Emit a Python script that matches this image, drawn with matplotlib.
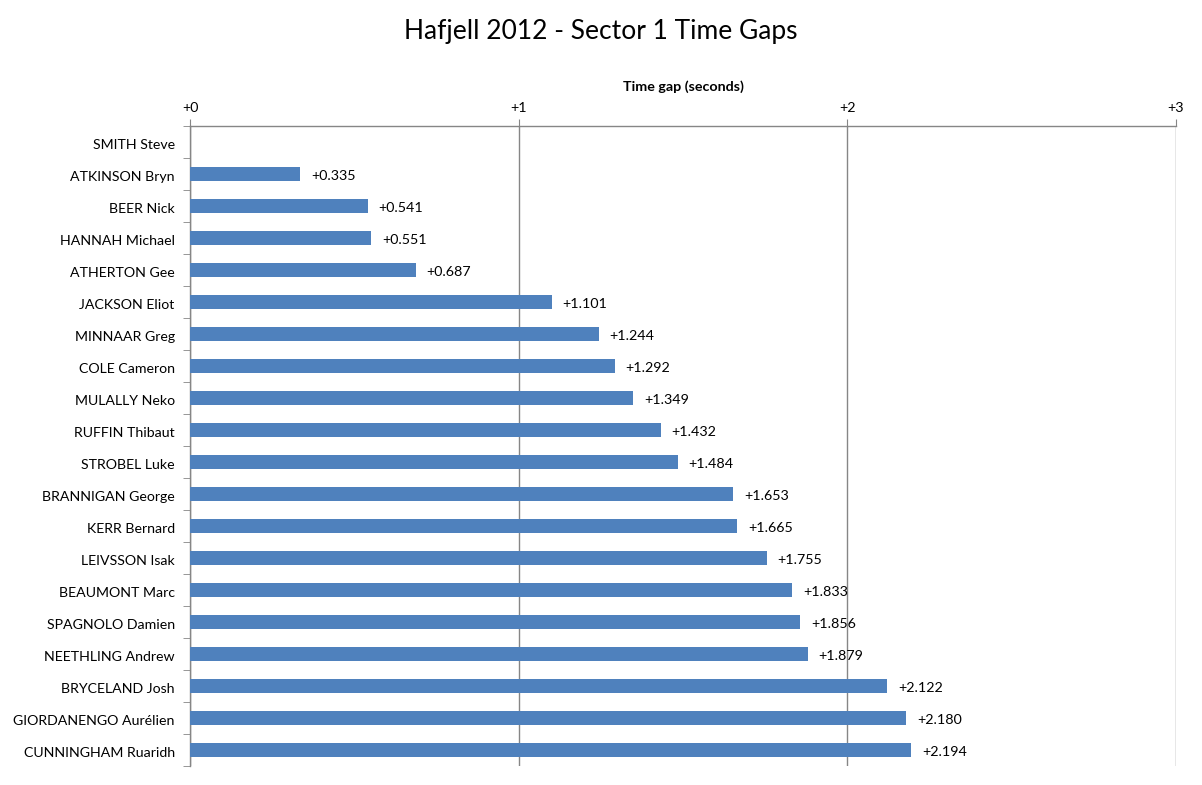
import matplotlib
matplotlib.use('Agg')
import matplotlib.pyplot as plt
import numpy as np

riders = ["SMITH Steve", "ATKINSON Bryn", "BEER Nick", "HANNAH Michael", "ATHERTON Gee",
          "JACKSON Eliot", "MINNAAR Greg", "COLE Cameron", "MULALLY Neko", "RUFFIN Thibaut",
          "STROBEL Luke", "BRANNIGAN George", "KERR Bernard", "LEIVSSON Isak", "BEAUMONT Marc",
          "SPAGNOLO Damien", "NEETHLING Andrew", "BRYCELAND Josh", "GIORDANENGO Aurélien",
          "CUNNINGHAM Ruaridh"]
gaps = [0.0, 0.335, 0.541, 0.551, 0.687, 1.101, 1.244, 1.292, 1.349, 1.432,
        1.484, 1.653, 1.665, 1.755, 1.833, 1.856, 1.879, 2.122, 2.180, 2.194]
xticks = [0, 1, 2, 3]
xticklabels = ["+0", "+1", "+2", "+3"]

plt.rcParams['font.family'] = ['Lato', 'DejaVu Sans']

bar_color = '#4f81bd'
axis_color = '#868686'

fig = plt.figure(figsize=(12.02, 7.85), dpi=100)
ax = fig.add_axes([190 / 1202, 1 - 766 / 785, (1176 - 190) / 1202, (766 - 126) / 785])

y = np.arange(len(riders))
ax.barh(y, gaps, height=0.41, color=bar_color, zorder=3)
for yi, g in zip(y, gaps):
    if g > 0:
        ax.text(g + 0.033, yi + 0.06, f"+{g:.3f}", va='center', ha='left', fontsize=10.3, color='black')

ax.set_ylim(len(riders) - 0.5, -0.5)
ax.set_xlim(0, 3)

ax.set_yticks(y + 0.06)
ax.set_yticklabels(riders, fontsize=10.2)
ax.set_yticks(np.arange(len(riders) + 1) - 0.5, minor=True)
ax.tick_params(axis='y', which='major', length=0, pad=11)
ax.tick_params(axis='y', which='minor', length=5, color=axis_color, direction='out')

ax.xaxis.tick_top()
ax.xaxis.set_label_position('top')
ax.set_xticks(xticks)
ax.set_xticklabels(xticklabels, fontsize=10.3)
ax.tick_params(axis='x', length=5, color=axis_color, pad=4)
ax.set_xlabel("Time gap (seconds)", fontsize=10.3, fontweight='bold', labelpad=8)

ax.grid(axis='x', color=axis_color, linewidth=1, zorder=0)
for s in ['right', 'bottom']:
    ax.spines[s].set_visible(False)
for s in ['left', 'top']:
    ax.spines[s].set_color(axis_color)
    ax.spines[s].set_linewidth(1)

fig.text(0.5, 1 - 32 / 785, "Hafjell 2012 - Sector 1 Time Gaps", ha='center', va='center', fontsize=19)

fig.savefig('out.png', dpi=100, facecolor='white')
